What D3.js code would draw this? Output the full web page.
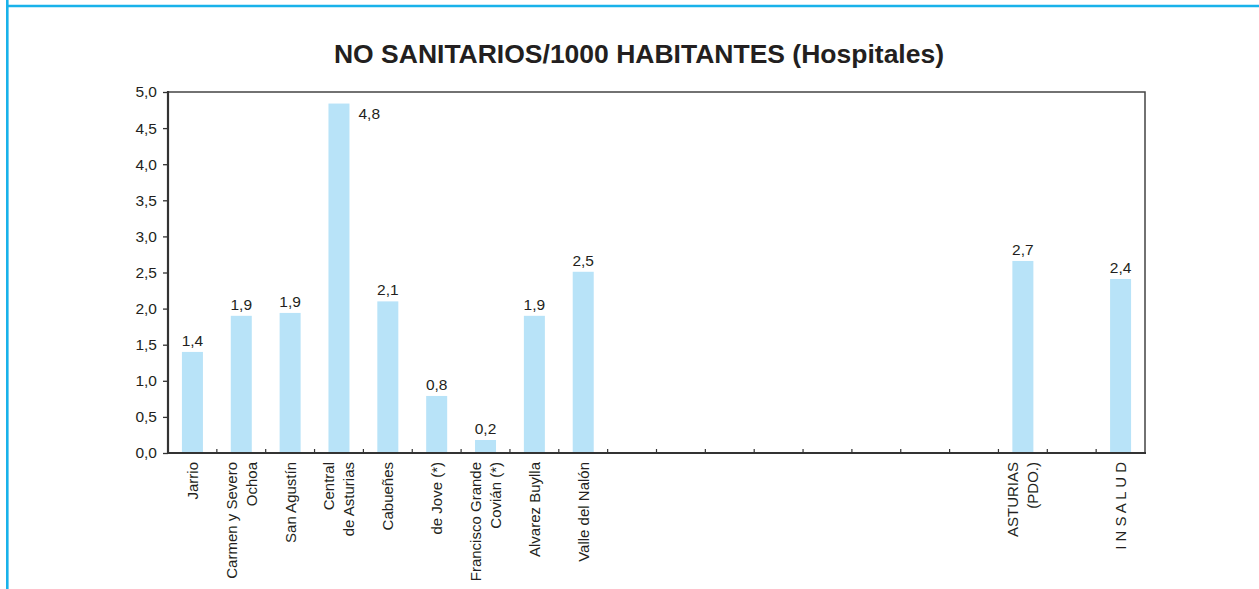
<!DOCTYPE html>
<html><head><meta charset="utf-8">
<script src="https://cdn.jsdelivr.net/npm/d3@7/dist/d3.min.js"></script>
<style>
html,body{margin:0;padding:0;background:#fff;}
svg{display:block;font-family:"Liberation Sans",Arial,Helvetica,sans-serif;}
</style></head>
<body>
<svg id="chart" width="1259" height="589"></svg>
<script>
// ---- data ----
const title = "NO SANITARIOS/1000 HABITANTES (Hospitales)";
const categories = [
  ["Jarrio"],
  ["Carmen y Severo", "Ochoa"],
  ["San Agustín"],
  ["Central", "de Asturias"],
  ["Cabueñes"],
  ["de Jove (*)"],
  ["Francisco Grande", "Covián (*)"],
  ["Alvarez Buylla"],
  ["Valle del Nalón"],
  [], [], [], [], [], [], [], [],
  ["ASTURIAS", "(PDO.)"],
  [],
  ["I N S A L U D"]
];
const values = [1.40, 1.90, 1.94, 4.84, 2.10, 0.79, 0.18, 1.90, 2.51,
  null, null, null, null, null, null, null, null, 2.66, null, 2.41];
const yTicks = [0, 0.5, 1, 1.5, 2, 2.5, 3, 3.5, 4, 4.5, 5];

// ---- layout ----
const svg = d3.select("#chart");
const L = 168, R = 1145, T = 92, B = 453;
const fmt = v => v.toFixed(1).replace(".", ",");
const textCol = "#231f20";

// cyan page frame
svg.append("line").attr("x1", 7.3).attr("x2", 7.3).attr("y1", 0).attr("y2", 589)
  .attr("stroke", "#19b2ea").attr("stroke-width", 2.6);
svg.append("line").attr("x1", 6).attr("x2", 1259).attr("y1", 6).attr("y2", 6)
  .attr("stroke", "#19b2ea").attr("stroke-width", 2.6);

svg.append("text").attr("x", 639).attr("y", 63).attr("text-anchor", "middle")
  .attr("font-size", 26.5).attr("font-weight", "bold").attr("fill", textCol)
  .text(title);

const idx = d3.range(categories.length);
const x = d3.scaleBand().domain(idx).range([L, R]).paddingInner(0.57).paddingOuter(0.285);
const y = d3.scaleLinear().domain([0, 5]).range([B, T]);
const step = x.step();

// plot frame top/right
svg.append("path").attr("d", `M${L},${T}H${R}V${B}`).attr("fill", "none")
  .attr("stroke", "#444").attr("stroke-width", 1.5);

// bars
const data = idx.map(i => ({i, v: values[i], lab: categories[i]})).filter(d => d.v != null);
svg.append("g").selectAll("rect").data(data).join("rect")
  .attr("x", d => x(d.i)).attr("width", x.bandwidth())
  .attr("y", d => y(d.v)).attr("height", d => y(0) - y(d.v))
  .attr("fill", "#b8e3f8");

// value labels
svg.append("g").selectAll("text").data(data).join("text")
  .attr("x", d => d.v > 4.5 ? x(d.i) + x.bandwidth() + 9 : x(d.i) + x.bandwidth() / 2)
  .attr("y", d => d.v > 4.5 ? y(d.v) + 15 : y(d.v) - 6)
  .attr("text-anchor", d => d.v > 4.5 ? "start" : "middle")
  .attr("font-size", 15.5).attr("fill", textCol)
  .text(d => fmt(d.v));

// y axis
const yAxis = d3.axisLeft(y).tickValues(yTicks).tickFormat(fmt).tickSize(5).tickSizeOuter(0).tickPadding(6);
const gy = svg.append("g").attr("transform", `translate(${L},0)`).call(yAxis);
gy.select(".domain").remove();
gy.selectAll(".tick line").attr("stroke", "#333").attr("stroke-width", 1.3);
gy.selectAll(".tick text").attr("font-size", 15.5).attr("fill", textCol)
  .attr("font-family", "Liberation Sans, Arial, sans-serif");
svg.append("line").attr("x1", L).attr("x2", L).attr("y1", T - 1).attr("y2", B + 1)
  .attr("stroke", "#333").attr("stroke-width", 2.2);

// x axis ticks (inward) at slot boundaries
const bounds = d3.range(1, categories.length).map(k => L + k * step);
svg.append("g").selectAll("line").data(bounds).join("line")
  .attr("x1", d => d).attr("x2", d => d).attr("y1", B).attr("y2", B - 4)
  .attr("stroke", "#333").attr("stroke-width", 1.2);
svg.append("line").attr("x1", L - 1).attr("x2", R + 1).attr("y1", B).attr("y2", B)
  .attr("stroke", "#333").attr("stroke-width", 2.2);

// x labels rotated
const lineGap = 20, capHalf = 5.4;
const gx = svg.append("g");
idx.forEach(i => {
  const lines = categories[i];
  if (!lines.length) return;
  const cx = x(i) + x.bandwidth() / 2;
  const n = lines.length;
  lines.forEach((t, j) => {
    const bx = cx + (j - (n - 1) / 2) * lineGap + capHalf;
    gx.append("text")
      .attr("transform", `translate(${bx},${B + 9}) rotate(-90)`)
      .attr("text-anchor", "end").attr("font-size", 15).attr("fill", textCol)
      .text(t);
  });
});
</script>
</body></html>
